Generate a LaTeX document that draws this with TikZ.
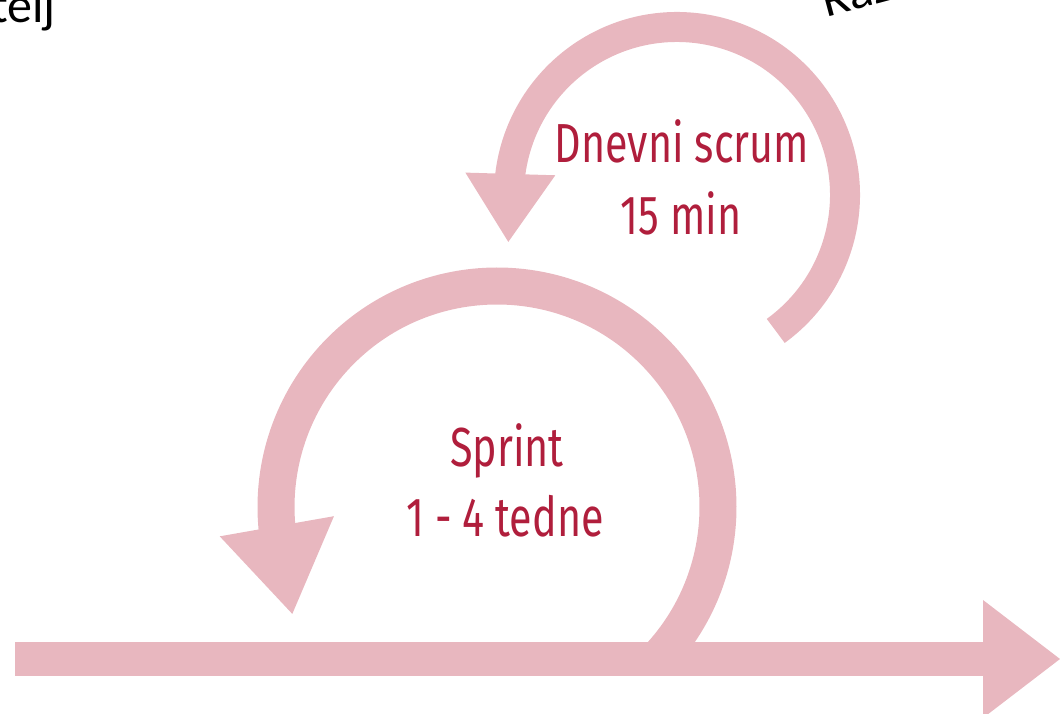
\documentclass[tikz,border=0pt]{standalone}
\usepackage{fontspec}
\setmainfont{Carlito}
\newfontfamily\labelfont[FakeStretch=0.75]{Fira Sans}
\usetikzlibrary{calc}
\definecolor{ringpink}{HTML}{E8B7BF}
\definecolor{labelred}{HTML}{B01E3C}

\begin{document}
\begin{tikzpicture}[x=1pt,y=1pt,
  ring/.style={draw=ringpink, line cap=butt},
  head/.style={fill=ringpink, draw=none},
  lbl/.style={text=labelred, font=\labelfont\fontsize{55}{66}\selectfont, anchor=base, inner sep=0pt},
  corner/.style={text=black, font=\fontsize{50}{60}\selectfont, inner sep=0pt}]
\useasboundingbox (0,0) rectangle (1060,714);
\clip (0,0) rectangle (1060,714);

% sprint loop
\coordinate (sc) at (497,207);
\draw[ring, line width=37pt] ($(sc)+(-43.5:221pt)$) arc[start angle=-43.5, end angle=185.5, radius=221pt];
\coordinate (sb) at ($(sc)+(185:221pt)$);
\fill[head] ($(sb)+(190:58pt)$) -- ($(sb)+(280:89pt)$) -- ($(sb)+(10:58pt)$) -- cycle;

% daily scrum loop
\coordinate (dc) at (677,519);
\draw[ring, line width=30pt] ($(dc)+(-54:168pt)$) arc[start angle=-54, end angle=173.5, radius=168pt];
\coordinate (db) at ($(dc)+(172.8:168pt)$);
\fill[head] ($(db)+(178.3:45pt)$) -- ($(db)+(268.3:68pt)$) -- ($(db)+(-1.7:45pt)$) -- cycle;

% time line
\coordinate (tlstart) at (15,55);
\coordinate (tlend) at (983,55);
\draw[ring, line width=34pt] (tlstart) -- (tlend);
\fill[head] ($(tlend)+(0,59)$) -- ($(tlend)+(77,0)$) -- ($(tlend)+(0,-59)$) -- cycle;

% labels
\node[lbl] (sprint) at (507,247) {Sprint};
\node[lbl] (sprintlen) at (505,177) {1 - 4 tedne};
\node[lbl] (daily) at (682,551) {Dnevni scrum};
\node[lbl] (dailylen) at (681,479) {15 min};

% corner texts
\node[corner, anchor=base east] (leftlabel) at (56,691) {telj};
\node[corner, anchor=base west, rotate=15] (rightlabel) at (826,696) {Raz};
\end{tikzpicture}
\end{document}
